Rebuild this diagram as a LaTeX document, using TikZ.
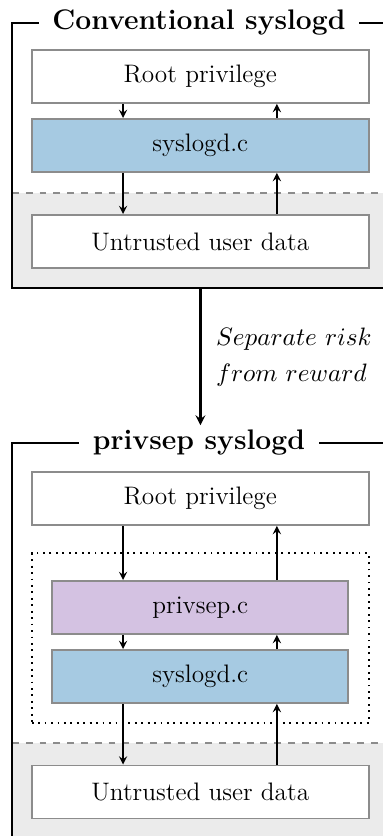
\documentclass[tikz,border=0pt]{standalone}
\begin{document}
\begin{tikzpicture}[
  >=stealth,
  layerbox/.style={shape=rectangle,draw=black!45,line width=0.8pt,fill=white,minimum width=5.149cm,minimum height=0.81cm,font=\fontsize{11}{13.6}\selectfont},
  codebox/.style={layerbox,minimum width=4.523cm},
  framebox/.style={shape=rectangle,draw,line width=0.9pt,minimum width=5.76cm},
  frametitle/.style={fill=white,inner ysep=2pt,inner xsep=6pt,font=\fontsize{12.3}{14.8}\selectfont\bfseries},
  flow/.style={->,line width=0.6pt}
]
\definecolor{syslogd_fill}{RGB}{166,202,226}
\definecolor{privsep_fill}{RGB}{212,194,226}
\definecolor{untrusted_bg}{RGB}{235,235,235}
\useasboundingbox (0,0) rectangle (5.837,12.773);

% untrusted zones
\fill[untrusted_bg] (0.183,8.373) rectangle (5.943,9.824);
\fill[untrusted_bg] (0.183,-0.5) rectangle (5.943,1.421);
\draw[dashed,color=black!45,line width=0.6pt] (0.183,9.824) to (5.943,9.824);
\draw[dashed,color=black!45,line width=0.6pt] (0.183,1.421) to (5.943,1.421);

% conventional syslogd
\node[framebox,minimum height=4.049cm] (conv) at (3.063,10.398) {};
\node[frametitle] (convtitle) at (3.04,12.422) {Conventional syslogd};
\node[layerbox] (root1) at (3.06,11.604) {Root privilege};
\node[layerbox,fill=syslogd_fill] (sys1) at (3.06,10.550) {syslogd.c};
\node[layerbox] (untr1) at (3.06,9.083) {Untrusted user data};

% privsep syslogd
\node[framebox,minimum height=6.305cm] (priv) at (3.063,2.853) {};
\node[frametitle] (privtitle) at (3.04,6.005) {privsep syslogd};
\node[layerbox] (root2) at (3.06,5.157) {Root privilege};
\node[layerbox,fill=none,draw=black,dotted,minimum height=2.597cm] (sandbox) at (3.06,3.025) {};
\node[codebox,fill=privsep_fill] (psep) at (3.06,3.491) {privsep.c};
\node[codebox,fill=syslogd_fill] (sys2) at (3.06,2.437) {syslogd.c};
\node[layerbox] (untr2) at (3.06,0.672) {Untrusted user data};

\draw[->,line width=0.9pt] (conv.south) to node[right,xshift=3pt,align=left,font=\fontsize{11}{13.6}\selectfont] (sepnote) {$Separate\ risk$\\[2pt]$from\ reward$} (conv.south |- privtitle.north);

\draw[flow] ([xshift=-1.18cm]root1.south) to ([xshift=-1.18cm]sys1.north);
\draw[flow] ([xshift=1.17cm]sys1.north) to ([xshift=1.17cm]root1.south);
\draw[flow] ([xshift=-1.18cm]sys1.south) to ([xshift=-1.18cm]untr1.north);
\draw[flow] ([xshift=1.17cm]untr1.north) to ([xshift=1.17cm]sys1.south);

\draw[flow] ([xshift=-1.18cm]root2.south) to ([xshift=-1.18cm]psep.north);
\draw[flow] ([xshift=1.17cm]psep.north) to ([xshift=1.17cm]root2.south);
\draw[flow] ([xshift=-1.18cm]psep.south) to ([xshift=-1.18cm]sys2.north);
\draw[flow] ([xshift=1.17cm]sys2.north) to ([xshift=1.17cm]psep.south);
\draw[flow] ([xshift=-1.18cm]sys2.south) to ([xshift=-1.18cm]untr2.north);
\draw[flow] ([xshift=1.17cm]untr2.north) to ([xshift=1.17cm]sys2.south);
\end{tikzpicture}
\end{document}
